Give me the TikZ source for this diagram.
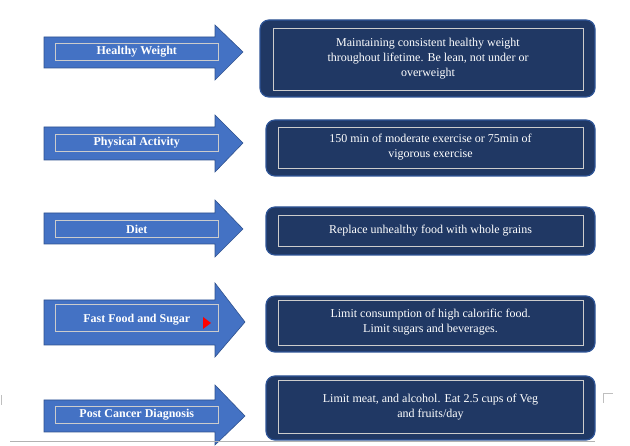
\documentclass[tikz,border=0pt]{standalone}
\usepackage{fontspec}
\setmainfont{Liberation Serif}
\definecolor{arrowblue}{HTML}{4472C4}
\definecolor{arrowedge}{HTML}{2F528F}
\definecolor{navy}{HTML}{203864}
\definecolor{navyedge}{HTML}{2F5597}
\begin{document}
\begin{tikzpicture}[x=1pt,y=-1pt,
  arrowshape/.style={fill=arrowblue,draw=arrowedge,line width=0.6pt},
  lab/.style={draw=white!80!black,line width=0.6pt,text=white,font=\bfseries\fontsize{12}{14}\selectfont,minimum width=163pt,inner sep=1pt,anchor=west},
  outer/.style={fill=navy,draw=navyedge,line width=1.2pt,rounded corners=9pt},
  inner/.style={draw=white!80!black,line width=0.6pt,text=white,font=\fontsize{12}{15}\selectfont,align=center,inner sep=2pt}]
\useasboundingbox (0,0) rectangle (630,446);
\newcommand{\arr}[6]{\draw[arrowshape] (44,#1) -- (215,#1) -- (215,#3) -- (#5,#6) -- (215,#4) -- (215,#2) -- (44,#2) -- cycle;}
\arr{37}{68}{25}{80}{243}{52}
\arr{127}{160}{115}{172}{243}{143}
\arr{213}{244}{200}{257}{243}{229}
\arr{300}{345}{283}{357}{245}{322}
\arr{400}{432}{385}{445}{245}{416}
\node[lab,minimum height=17pt] (l1) at (55,52) {Healthy Weight};
\node[lab,minimum height=17pt] (l2) at (55,143) {Physical Activity};
\node[lab,minimum height=17pt] (l3) at (55,229) {Diet};
\node[lab,minimum height=27pt,anchor=north west,text height=12pt] (l4) at (55,304) {Fast Food and Sugar};
\node[lab,minimum height=17pt] (l5) at (55,415) {Post Cancer Diagnosis};
\fill[red] (203,317) -- (211,323) -- (203,329) -- cycle;
\draw[outer] (260,20) rectangle (595,97);
\draw[outer] (266,120) rectangle (595,176);
\draw[outer] (266,207) rectangle (595,255);
\draw[outer] (266,296) rectangle (595,352);
\draw[outer] (266,376) rectangle (595,440);
\node[inner,minimum width=310pt,minimum height=62pt] (b1) at (428,59) {Maintaining consistent healthy weight\\throughout lifetime. Be lean, not under or\\overweight};
\node[inner,minimum width=305pt,minimum height=41pt] (b2) at (430.5,147.5) {150 min of moderate exercise or 75min of\\vigorous exercise};
\node[inner,minimum width=305pt,minimum height=31pt] (b3) at (430.5,230.5) {Replace unhealthy food with whole grains};
\node[inner,minimum width=305pt,minimum height=45pt] (b4) at (430.5,322.5) {Limit consumption of high calorific food.\\Limit sugars and beverages.};
\node[inner,minimum width=305pt,minimum height=53pt,anchor=north] (b5) at (430.5,380) {Limit meat, and alcohol. Eat 2.5 cups of Veg\\and fruits/day};
\draw[gray!60,line width=0.8pt] (10,441) -- (595,441);
\draw[gray!50,line width=0.6pt] (1,395) -- (1,405);
\draw[gray!50,line width=0.6pt] (603,403) -- (603,393) -- (613,393);
\end{tikzpicture}
\end{document}
